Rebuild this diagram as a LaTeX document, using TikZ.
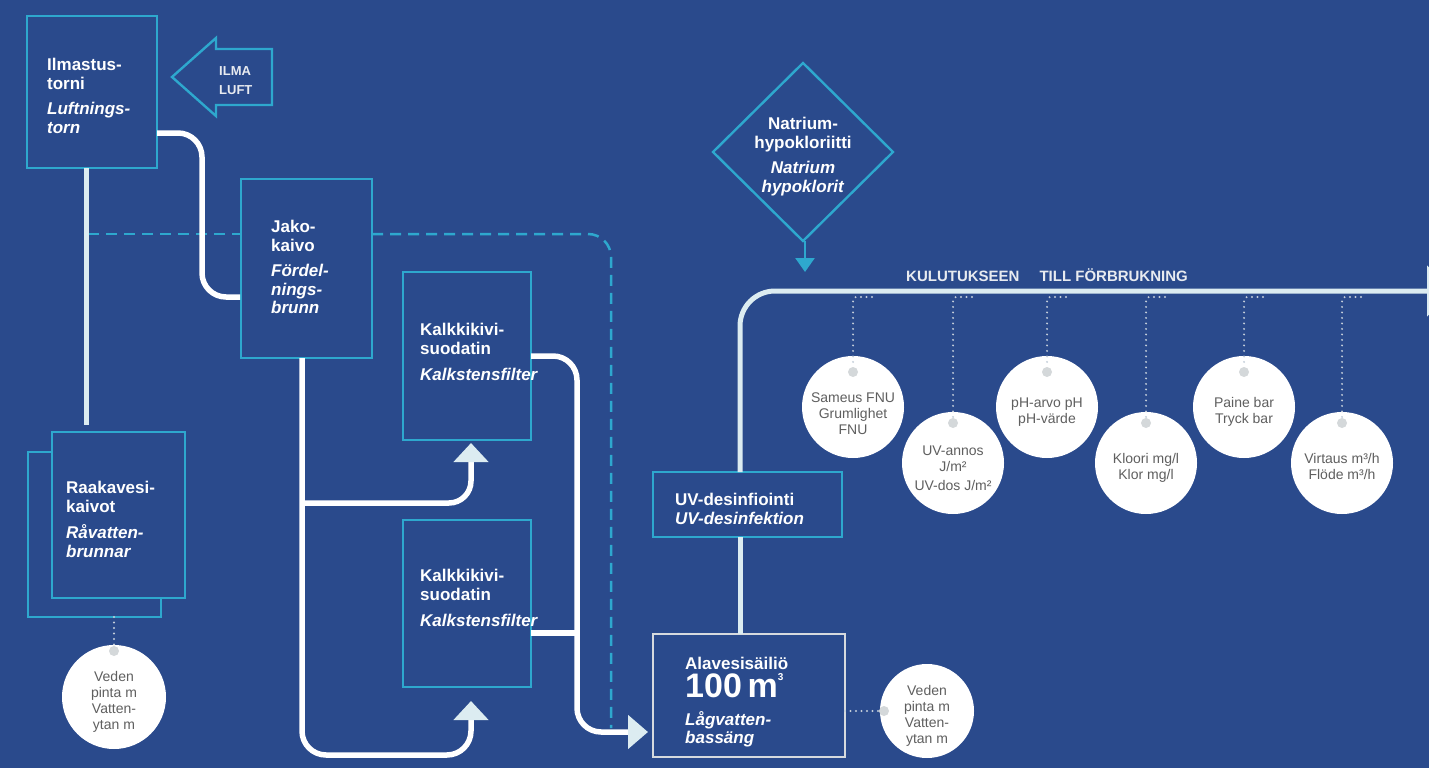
\documentclass[tikz,border=0pt]{standalone}
\usepackage{fontspec}
\setmainfont{Liberation Sans}
\usetikzlibrary{arrows.meta}
\usetikzlibrary{shapes.geometric}

\definecolor{bgblue}{RGB}{42,74,140}
\definecolor{boxcyan}{RGB}{46,168,206}
\definecolor{pipelight}{RGB}{220,236,241}
\definecolor{tankgray}{RGB}{214,218,222}
\definecolor{metergray}{RGB}{95,95,95}
\definecolor{dotgray}{RGB}{212,216,218}
\definecolor{tapgray}{RGB}{196,206,218}
\definecolor{labelgray}{RGB}{232,235,240}

\tikzset{
	box/.style={rectangle, draw=boxcyan, line width=2.4pt, fill=bgblue, inner sep=0pt, outer sep=0pt},
	title/.style={anchor=north west, align=left, inner sep=0pt, text=white, font=\bfseries\fontsize{17}{18.5}\selectfont},
	meter/.style={circle, fill=white, inner sep=0pt},
	metertxt/.style={align=center, inner sep=0pt, text=metergray, font=\fontsize{14}{16}\selectfont},
	dot/.style={circle, fill=dotgray, minimum size=10pt, inner sep=0pt},
	water/.style={white, line width=5.5pt},
	clean/.style={pipelight, line width=5pt},
	bypass/.style={boxcyan, line width=2.5pt, dash pattern=on 11pt off 7pt},
	tap/.style={tapgray, line width=2.2pt, line cap=round, dash pattern=on 0pt off 5.5pt, rounded corners=3pt},
	inlet/.style={-{Triangle[width=34pt, length=19pt, color=pipelight]}},
}

\begin{document}
\begin{tikzpicture}[x=1pt, y=-1pt]
		\useasboundingbox (0,0) rectangle (1429,768);
		\clip (0,0) rectangle (1429,768);
		\fill[bgblue] (0,0) rectangle (1429,768);

		\node[box, minimum width=130pt, minimum height=152pt] (tower) at (92,92) {};
		\node[title] (towertxt) at ([shift={(20,42)}]tower.north west) {Ilmastus-\\torni\\[7pt]\textit{Luftnings-}\\\textit{torn}};

		\draw[boxcyan, line width=2.4pt, fill=bgblue] (172,77) -- (216,38) -- (216,49) -- (272,49) -- (272,105) -- (216,105) -- (216,116) -- cycle;
		\node[anchor=north west, align=left, inner sep=0pt, text=labelgray, font=\bfseries\fontsize{13}{19}\selectfont] (air) at (219,66) {ILMA\\LUFT};

		\node[box, minimum width=131pt, minimum height=179pt] (jako) at (306.5,268.5) {};
		\node[title] (jakotxt) at ([shift={(30,41)}]jako.north west) {Jako-\\kaivo\\[7pt]\textit{Fördel-}\\\textit{nings-}\\\textit{brunn}};

		\node[box, minimum width=133pt, minimum height=165pt] (rawback) at (94.5,534.5) {};
		\node[box, minimum width=133pt, minimum height=166pt] (raw) at (118.5,515) {};
		\node[title] (rawtxt) at ([shift={(14,49)}]raw.north west) {Raakavesi-\\kaivot\\[8pt]\textit{Råvatten-}\\\textit{brunnar}};

		\node[box, minimum width=128pt, minimum height=168pt] (kalk1) at (467,356) {};
		\node[title] (kalk1txt) at ([shift={(17,51)}]kalk1.north west) {Kalkkikivi-\\suodatin\\[8pt]\textit{Kalkstensfilter}};
		\node[box, minimum width=128pt, minimum height=167pt] (kalk2) at (467,603.5) {};
		\node[title] (kalk2txt) at ([shift={(17,49)}]kalk2.north west) {Kalkkikivi-\\suodatin\\[8pt]\textit{Kalkstensfilter}};

		\node[box, minimum width=189pt, minimum height=65pt] (uv) at (747.5,504.5) {};
		\node[title] (uvtxt) at ([shift={(22,21)}]uv.north west) {UV-desinfiointi\\\textit{UV-desinfektion}};

		\node[box, draw=tankgray, minimum width=192pt, minimum height=123pt] (tank) at (749,695.5) {};
		\node[title] (tanktxt) at ([shift={(32,23)}]tank.north west) {Alavesisäiliö\\[3pt]{\fontsize{34}{34}\selectfont 100\,m}\raisebox{17pt}{\fontsize{10}{10}\selectfont 3}\\[9pt]\textit{Lågvatten-}\\\textit{bassäng}};

		\node[diamond, draw=boxcyan, line width=2.4pt, fill=bgblue, minimum width=180pt, minimum height=178pt, inner sep=0pt, outer sep=0pt] (natrium) at (803,152) {};
		\node[title, anchor=north, align=center] (natriumtxt) at ([yshift=35pt]natrium.center) {Natrium-\\hypokloriitti\\[7pt]\textit{Natrium}\\\textit{hypoklorit}};

		\node[anchor=base, inner sep=0pt, text=labelgray, font=\bfseries\fontsize{15}{17}\selectfont] (usage) at (1047,281) {KULUTUKSEEN\hspace{20pt}TILL FÖRBRUKNING};

		\coordinate (airtap) at (88,234);
		\coordinate (bypassend) at (611,728);
		\draw[bypass] (airtap) -- (airtap -| jako.west);
		\draw[bypass, rounded corners=23pt] (airtap -| jako.east) -| (bypassend);

		\coordinate (bend) at (202,133);
		\coordinate (jakoin) at (240,297);
		\draw[water, rounded corners=24pt] (tower.east |- bend) -- (bend) |- (jakoin);

		\coordinate (rawin) at (86,425);
		\draw[clean] (tower.south -| rawin) -- (rawin);

		\coordinate (split) at (302,503);
		\coordinate (kalk1in) at (471,443);
		\coordinate (kalk2in) at (471,701);
		\draw[water, inlet, rounded corners=24pt] (jako.south -| split) |- ([yshift=-54pt]kalk2in) -- (kalk2in);
		\draw[water, inlet, rounded corners=22pt] (split) -| (kalk1in);

		\coordinate (drop) at (577,633);
		\coordinate (tankin) at (648,732);
		\draw[water, rounded corners=24pt, -{Triangle[width=33pt, length=20pt, color=pipelight]}] (kalk1.east) -| (drop |- tankin) -- (tankin);
		\draw[water] (kalk2.east |- drop) -- (drop);

		\coordinate (corner) at (740,291);
		\coordinate (outlet) at (1453,291);
		\draw[clean] (tank.north -| corner) -- (uv.south -| corner);
		\draw[clean, rounded corners=35pt, -{Triangle[width=50pt, length=26pt]}] (uv.north -| corner) |- (outlet);

		\coordinate (dose) at (805,272);
		\draw[boxcyan, line width=2.5pt, -{Triangle[width=19pt, length=14pt]}] (natrium.south -| dose) -- (dose);

		\node[meter, minimum size=102pt] (sameus) at (853,407) {};
		\node[dot] (sameusdot) at ([yshift=35pt]sameus.center) {};
		\node[metertxt] (sameustxt) at ([yshift=-7pt]sameus.center) {Sameus FNU\\Grumlighet\\FNU};
		\coordinate (sameustap) at (872,297);
		\draw[tap] (sameustap) -| (sameusdot);

		\node[meter, minimum size=102pt] (uvdose) at (953,463) {};
		\node[dot] (uvdosedot) at ([yshift=40pt]uvdose.center) {};
		\node[metertxt] (uvdosetxt) at ([yshift=-5pt]uvdose.center) {UV-annos\\J/m²\\[3pt]UV-dos J/m²};
		\coordinate (uvdosetap) at (972,297);
		\draw[tap] (uvdosetap) -| (uvdosedot);

		\node[meter, minimum size=102pt] (ph) at (1047,407) {};
		\node[dot] (phdot) at ([yshift=35pt]ph.center) {};
		\node[metertxt] (phtxt) at ([yshift=-5pt]ph.center) {pH-arvo pH\\pH-värde};
		\coordinate (phtap) at (1066,297);
		\draw[tap] (phtap) -| (phdot);

		\node[meter, minimum size=102pt] (kloori) at (1146,463) {};
		\node[dot] (klooridot) at ([yshift=40pt]kloori.center) {};
		\node[metertxt] (klooritxt) at ([yshift=-5pt]kloori.center) {Kloori mg/l\\Klor mg/l};
		\coordinate (klooritap) at (1165,297);
		\draw[tap] (klooritap) -| (klooridot);

		\node[meter, minimum size=102pt] (paine) at (1244,407) {};
		\node[dot] (painedot) at ([yshift=35pt]paine.center) {};
		\node[metertxt] (painetxt) at ([yshift=-5pt]paine.center) {Paine bar\\Tryck bar};
		\coordinate (painetap) at (1263,297);
		\draw[tap] (painetap) -| (painedot);

		\node[meter, minimum size=102pt] (virtaus) at (1342,463) {};
		\node[dot] (virtausdot) at ([yshift=40pt]virtaus.center) {};
		\node[metertxt] (virtaustxt) at ([yshift=-3pt]virtaus.center) {Virtaus m³/h\\Flöde m³/h};
		\coordinate (virtaustap) at (1361,297);
		\draw[tap] (virtaustap) -| (virtausdot);

		\node[meter, minimum size=104pt] (rawlevel) at (114,697) {};
		\node[dot] (rawleveldot) at ([yshift=46pt]rawlevel.center) {};
		\node[metertxt] (rawleveltxt) at ([yshift=-5pt]rawlevel.center) {Veden\\pinta m\\Vatten-\\ytan m};
		\draw[tap] (rawback.south -| rawleveldot) -- (rawleveldot);

		\node[meter, minimum size=94pt] (tanklevel) at (927,711) {};
		\node[dot] (tankleveldot) at ([xshift=-43pt]tanklevel.center) {};
		\node[metertxt] (tankleveltxt) at ([yshift=-5pt]tanklevel.center) {Veden\\pinta m\\Vatten-\\ytan m};
		\draw[tap] (tank.east |- tankleveldot) -- (tankleveldot);
	\end{tikzpicture}
\end{document}
